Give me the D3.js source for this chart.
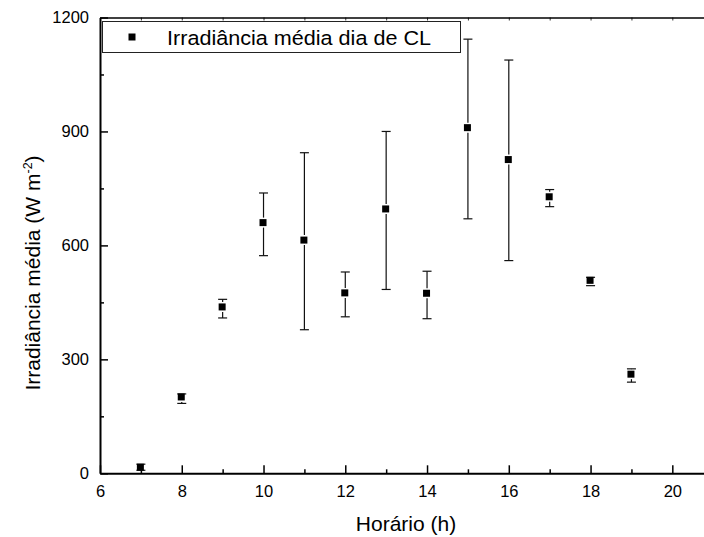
<!DOCTYPE html>
<html>
<head>
<meta charset="utf-8">
<script src="https://cdn.jsdelivr.net/npm/d3@7"></script>
<style>
  body { margin: 0; background: #fff; }
  svg { display: block; font-family: "Liberation Sans", Arial, sans-serif; }
</style>
</head>
<body>
<svg id="chart" width="704" height="537"></svg>
<script>
// values (W m-2)
const hours = [7, 8, 9, 10, 11, 12, 13, 14, 15, 16, 17, 18, 19];
const means = [16, 201, 438, 660, 614, 475, 696, 474, 910, 826, 728, 508, 261];
const upper = [24, 209, 458, 738, 844, 530, 900, 532, 1143, 1088, 747, 516, 275];
const lower = [8, 184, 409, 573, 378, 412, 484, 407, 670, 560, 702, 494, 240];

const xMajor = [6, 8, 10, 12, 14, 16, 18, 20];
const xMinor = [7, 9, 11, 13, 15, 17, 19, 21];
const yMajor = [0, 300, 600, 900, 1200];
const yMinor = [150, 450, 750, 1050];

const legendLabel = "Irradiância média dia de CL";

var svg = d3.select("#chart");

var plotLeft = 100, plotTop = 17.5, plotBottom = 473.3;
var pxPerHour = 40.88;

var x = d3.scaleLinear().domain([6, 21]).range([plotLeft, plotLeft + 15 * pxPerHour]);
var y = d3.scaleLinear().domain([0, 1200]).range([plotBottom, plotTop]);

var points = hours.map(function (h, i) {
  return { x: h, y: means[i], hi: upper[i], lo: lower[i] };
});

// top border with little ticks
svg.append("g")
  .attr("transform", "translate(0," + plotTop + ")")
  .call(d3.axisTop(x).tickValues(xMajor.concat(xMinor)).tickSize(-3).tickSizeOuter(0).tickFormat(""))
  .call(function (g) {
    g.select(".domain").attr("stroke-width", 1.5);
    g.selectAll(".tick line").attr("stroke-width", 0.8);
  });

// bottom axis
var xAxis = svg.append("g")
  .attr("transform", "translate(0," + plotBottom + ")")
  .call(d3.axisBottom(x).tickValues(xMajor).tickSize(-8).tickSizeOuter(0).tickPadding(12).tickFormat(d3.format("d")));
xAxis.attr("font-family", null).attr("font-size", 16.5);
xAxis.select(".domain").attr("stroke-width", 2);
xAxis.selectAll(".tick line").attr("stroke-width", 1.5);
xAxis.selectAll("text").attr("fill", "#000");

svg.append("g")
  .attr("transform", "translate(0," + plotBottom + ")")
  .call(d3.axisBottom(x).tickValues(xMinor).tickSize(-4).tickSizeOuter(0).tickFormat(""))
  .call(function (g) {
    g.select(".domain").remove();
    g.selectAll(".tick line").attr("stroke-width", 1.5);
  });

// left axis
var yAxis = svg.append("g")
  .attr("transform", "translate(" + plotLeft + ",0)")
  .call(d3.axisLeft(y).tickValues(yMajor).tickSize(-8).tickSizeOuter(0).tickPadding(11).tickFormat(d3.format("d")));
yAxis.attr("font-family", null).attr("font-size", 16.5);
yAxis.select(".domain").attr("stroke-width", 2);
yAxis.selectAll(".tick line").attr("stroke-width", 1.5);
yAxis.selectAll("text").attr("fill", "#000");

svg.append("g")
  .attr("transform", "translate(" + plotLeft + ",0)")
  .call(d3.axisLeft(y).tickValues(yMinor).tickSize(-4).tickSizeOuter(0).tickFormat(""))
  .call(function (g) {
    g.select(".domain").remove();
    g.selectAll(".tick line").attr("stroke-width", 1.5);
  });

// error bars
var bars = svg.append("g").attr("class", "errorbars")
  .attr("stroke", "#111").attr("stroke-width", 1.2);

var half = 3.5, gap = 1.5, cap = 4.5;

points.forEach(function (d) {
  var cx = x(d.x);
  var cy = y(d.y);
  if (y(d.hi) < cy - half - gap) {
    bars.append("line").attr("x1", cx).attr("x2", cx)
      .attr("y1", y(d.hi)).attr("y2", cy - half - gap);
  }
  if (y(d.lo) > cy + half + gap) {
    bars.append("line").attr("x1", cx).attr("x2", cx)
      .attr("y1", cy + half + gap).attr("y2", y(d.lo));
  }
  bars.append("line").attr("x1", cx - cap).attr("x2", cx + cap)
    .attr("y1", y(d.hi)).attr("y2", y(d.hi));
  bars.append("line").attr("x1", cx - cap).attr("x2", cx + cap)
    .attr("y1", y(d.lo)).attr("y2", y(d.lo));
});

// markers
svg.append("g").attr("class", "markers")
  .selectAll("rect")
  .data(points)
  .enter()
  .append("rect")
  .attr("x", function (d) { return x(d.x) - half - 0.5; })
  .attr("y", function (d) { return y(d.y) - half; })
  .attr("width", half * 2)
  .attr("height", half * 2)
  .attr("fill", "#000");

// legend
var legend = svg.append("g").attr("class", "legend");
legend.append("rect")
  .attr("x", 102.5).attr("y", 21.5)
  .attr("width", 358).attr("height", 31)
  .attr("fill", "#fff").attr("stroke", "#222").attr("stroke-width", 1);
legend.append("rect")
  .attr("x", 128.5).attr("y", 33.5)
  .attr("width", 7).attr("height", 7)
  .attr("fill", "#000");
legend.append("text")
  .attr("x", 167).attr("y", 44.5)
  .attr("font-size", 20.5)
  .attr("textLength", 264)
  .attr("lengthAdjust", "spacingAndGlyphs")
  .text(legendLabel);

// axis titles
svg.append("text")
  .attr("x", 406).attr("y", 531)
  .attr("text-anchor", "middle")
  .attr("font-size", 21)
  .text("Horário (h)");

var yTitle = svg.append("text")
  .attr("transform", "translate(40,273) rotate(-90)")
  .attr("text-anchor", "middle")
  .attr("font-size", 21);
yTitle.append("tspan").text("Irradiância média (W m");
yTitle.append("tspan").attr("font-size", 12.5).attr("dy", -8.5).text("-2");
yTitle.append("tspan").attr("dy", 8.5).text(")");
</script>
</body>
</html>
